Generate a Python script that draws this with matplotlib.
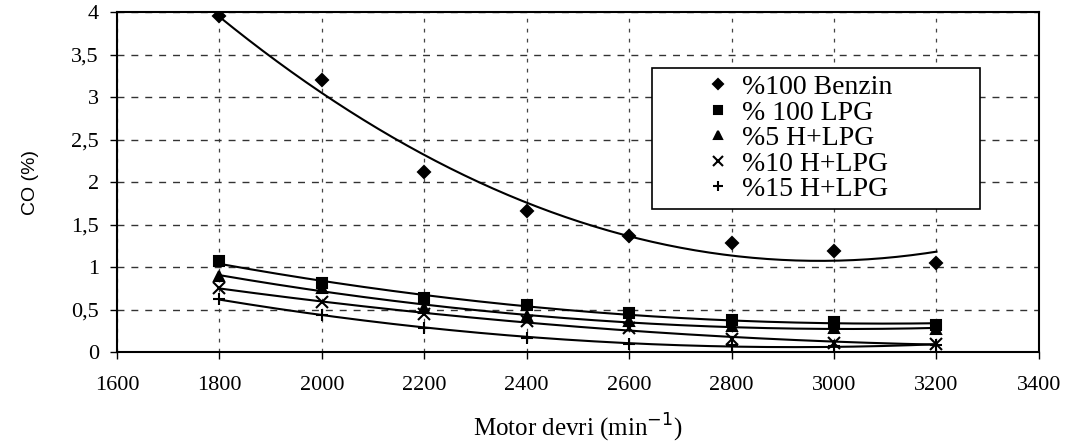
import numpy as np
import matplotlib
matplotlib.use("Agg")
from matplotlib import pyplot as plt
from matplotlib.ticker import FuncFormatter


# --------------------------- DATA ---------------------------

rpm = [1800, 2000, 2200, 2400, 2600, 2800, 3000, 3200]
benzin = [3.95, 3.20, 2.12, 1.66, 1.37, 1.28, 1.19, 1.05]
lpg = [1.07, 0.81, 0.63, 0.55, 0.46, 0.38, 0.35, 0.32]
h5_lpg = [0.90, 0.75, 0.52, 0.42, 0.36, 0.31, 0.28, 0.27]
h10_lpg = [0.75, 0.59, 0.45, 0.36, 0.28, 0.15, 0.11, 0.10]
h15_lpg = [0.62, 0.44, 0.28, 0.17, 0.10, 0.08, 0.07, 0.08]

labels = ["%100 Benzin", "% 100 LPG", "%5 H+LPG", "%10 H+LPG", "%15 H+LPG"]
series = [benzin, lpg, h5_lpg, h10_lpg, h15_lpg]
markers = ["D", "s", "^", "x", "+"]
msizes = [6, 7, 7, 8, 9]

serif = ["Liberation Serif", "DejaVu Serif"]


# --------------------------- PLOT ---------------------------

fig = plt.figure(figsize=(10.89, 4.47), dpi=100)
ax = fig.add_axes([0.1074, 0.2125, 0.8466, 0.7605])

xs = np.linspace(1800, 3200, 200)
for vals, lab, m, ms in zip(series, labels, markers, msizes):
    # quadratic trend line like the spreadsheet original
    coef = np.polyfit(rpm, vals, 2)
    ax.plot(xs, np.polyval(coef, xs), color="black", lw=1.5, zorder=3)
    ax.plot(rpm, vals, linestyle="none", marker=m, color="black",
            markersize=ms, markeredgewidth=1.5, label=lab, zorder=4)

ax.set_xlim(1600, 3400)
ax.set_ylim(0, 4)
ax.set_xticks(range(1600, 3401, 200))
ax.set_yticks(np.arange(0, 4.01, 0.5))
ax.yaxis.set_major_formatter(FuncFormatter(
    lambda v, p: ("%g" % v).replace(".", ",")))

ax.yaxis.grid(True, linestyle=(0, (5, 5)), color="#333333", lw=1.0)
ax.xaxis.grid(True, linestyle=(0, (3, 5)), color="#444444", lw=0.9)
ax.set_axisbelow(True)

for s in ax.spines.values():
    s.set_linewidth(1.5)
    s.set_color("black")

ax.tick_params(direction="out", length=5, width=1, colors="black")
for t in ax.get_xticklabels() + ax.get_yticklabels():
    t.set_fontfamily(serif)
    t.set_fontsize(16)
ax.tick_params(axis="x", pad=12)
ax.tick_params(axis="y", pad=8)

ax.set_ylabel("CO (%)", fontsize=14, family=["Liberation Sans Narrow", "Liberation Sans"])
ax.yaxis.set_label_coords(-0.085, 0.5)
ax.set_xlabel("Motor devri (min$^{-1}$)", fontsize=18, family=serif)
ax.xaxis.set_label_coords(0.5, -0.175)

leg = ax.legend(loc="upper left", bbox_to_anchor=(0.580, 0.42, 0.356, 0.416),
                mode="expand", frameon=True, borderaxespad=0,
                fancybox=False, edgecolor="black", handletextpad=-1.3,
                labelspacing=0.0, borderpad=0.25, handlelength=4.3,
                markerscale=0.85, prop={"family": serif, "size": 20})
leg.get_frame().set_linewidth(1.2)
leg.get_frame().set_alpha(1)

fig.savefig("out.png", dpi=100)
